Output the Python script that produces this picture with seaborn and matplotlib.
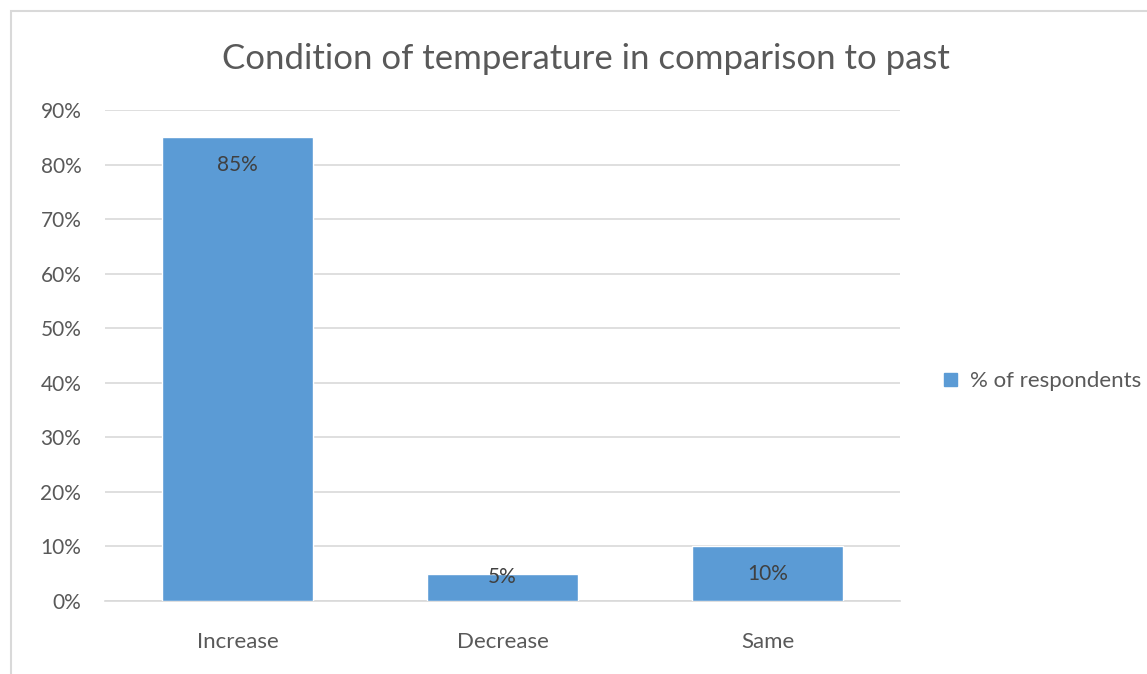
import matplotlib
matplotlib.use("Agg")
import matplotlib.pyplot as plt
from matplotlib.patches import Patch, Rectangle
from matplotlib.ticker import FuncFormatter, MultipleLocator
import seaborn as sns
import pandas as pd

categories = ["Increase", "Decrease", "Same"]
values = [0.85, 0.05, 0.10]
series_name = "% of respondents"
title = "Condition of temperature in comparison to past"

BAR = "#5B9BD5"
TXT = "#595959"
GRID = "#D9D9D9"

sns.set_theme(style="white")
plt.rcParams["font.family"] = ["Lato", "DejaVu Sans"]

fig = plt.figure(figsize=(11.47, 6.74), dpi=100)
ax = fig.add_axes([0.0915, 0.1083, 0.6932, 0.7285])

df = pd.DataFrame({"category": categories, "value": values})
sns.barplot(data=df, x="category", y="value", color=BAR, width=0.57,
            saturation=1, ax=ax, zorder=3)

ax.set_xlim(-0.5, 2.5)
ax.set_ylim(0, 0.9)
ax.yaxis.set_major_locator(MultipleLocator(0.1))
ax.yaxis.set_major_formatter(FuncFormatter(lambda v, _: f"{v*100:.0f}%"))
ax.grid(axis="y", color=GRID, linewidth=1.2, zorder=0)
ax.grid(axis="x", visible=False)
for s in ["top", "right", "left"]:
    ax.spines[s].set_visible(False)
ax.spines["bottom"].set_color(GRID)
ax.spines["bottom"].set_linewidth(1.2)
ax.set_xlabel("")
ax.set_ylabel("")
ax.tick_params(axis="both", length=0, labelsize=15, colors=TXT)
ax.tick_params(axis="x", labelsize=16, pad=22)
ax.tick_params(axis="y", pad=17)

# value labels inside the bar ends
for i, v in enumerate(values):
    y = max(v - 0.051, 0.044)
    ax.text(i, y, f"{v*100:.0f}%", ha="center", va="center",
            fontsize=15, color="#404040", zorder=4)

fig.text(0.511, 0.912, title, ha="center", va="center", fontsize=25, color=TXT)

handle = Patch(facecolor=BAR, edgecolor=BAR, label=series_name)
fig.legend(handles=[handle], loc="center left", bbox_to_anchor=(0.806, 0.434),
           frameon=False, fontsize=16, handlelength=0.55, handleheight=0.55,
           handletextpad=0.6, labelcolor=TXT)

# chart frame
fig.patches.append(Rectangle((11 / 1147, -0.1), 1.2, 1 - 11 / 674 + 0.1,
                             transform=fig.transFigure, fill=False,
                             edgecolor="#D9D9D9", linewidth=1.5))

fig.savefig("out.png", dpi=100, facecolor="white")
